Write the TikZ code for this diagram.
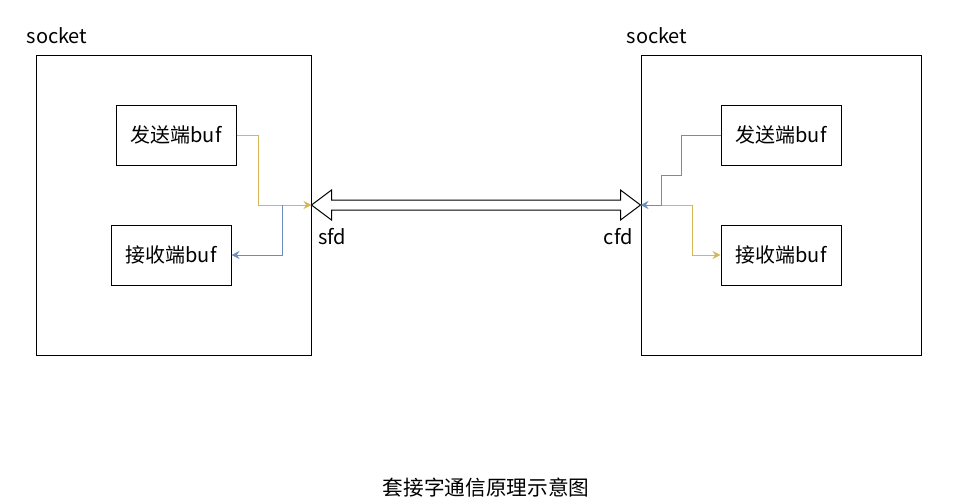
\documentclass[tikz,border=0pt]{standalone}
\usepackage{xcolor}
\usepackage{fontspec}
\setmainfont{Noto Sans CJK SC}
\usepackage{tikz}
\usetikzlibrary{positioning, calc, arrows.meta}
\definecolor{sendline}{HTML}{D6B656}
\definecolor{recvline}{HTML}{6C8EBF}
\tikzset{
    sockbox/.style={
        draw, line width = 0.75pt,
        minimum height = 225pt
    },
    bufbox/.style={
        draw, line width = 0.75pt,
        minimum width = 90pt,
        minimum height = 45pt,
        align = center,
        font = \fontsize{15}{18}\selectfont
    },
    label/.style = {font = \fontsize{15}{18}\selectfont, inner sep = 0pt},
    flow/.style = {line width = 0.75pt, -{Stealth[length=6pt, width=6pt, inset=2pt]}}
}

\begin{document}
\begin{tikzpicture}[x = 0.75pt, y = -0.75pt]

    \useasboundingbox (0,0) rectangle (967,501);

    \node[sockbox, minimum width = 206.25pt] (lsock) at (173.5,205) {};
    \node[sockbox, minimum width = 210pt] (rsock) at (781,205) {};
    \node[label] (lname) at (57,36) {socket};
    \node[label] (rname) at (657,36) {socket};

    \node[bufbox] (lsend) at (176,135) {发送端buf};
    \node[bufbox] (lrecv) at (171,255) {接收端buf};
    \node[bufbox] (rsend) at (781,135) {发送端buf};
    \node[bufbox] (rrecv) at (781,255) {接收端buf};

    % pipe between the two sockets
    \draw[line width = 0.75pt, fill = white] (lsock.east) -- ++(20,-15) -- ++(0,10) -- ($(rsock.west)+(-20,-5)$)
        -- ++(0,-10) -- (rsock.west) -- ++(-20,15) -- ++(0,-10) -- ($(lsock.east)+(20,5)$) -- ++(0,10) -- cycle;
    \node[label, anchor = west] (sfd) at (318,237) {sfd};
    \node[label, anchor = east] (cfd) at (633,237) {cfd};

    \coordinate (ljoin) at ($(lsock.east)+(-29,0)$);
    \coordinate (rjoin) at ($(rsock.west)+(21,0)$);

    \draw[flow, sendline] (lsend.east) -- ++(22,0) |- (lsock.east);
    \draw[flow, recvline] (ljoin) |- (lrecv.east);
    \draw[flow, recvline] (rsend.west) -- ++(-39,0) -- ++(0,40) -| (rjoin) -- (rsock.west);
    \draw[flow, sendline] (rjoin) -- ++(31,0) |- (rrecv.west);

    \node[label, font = \fontsize{15.5}{18}\selectfont] (title) at (486,488) {套接字通信原理示意图};

\end{tikzpicture}
\end{document}
